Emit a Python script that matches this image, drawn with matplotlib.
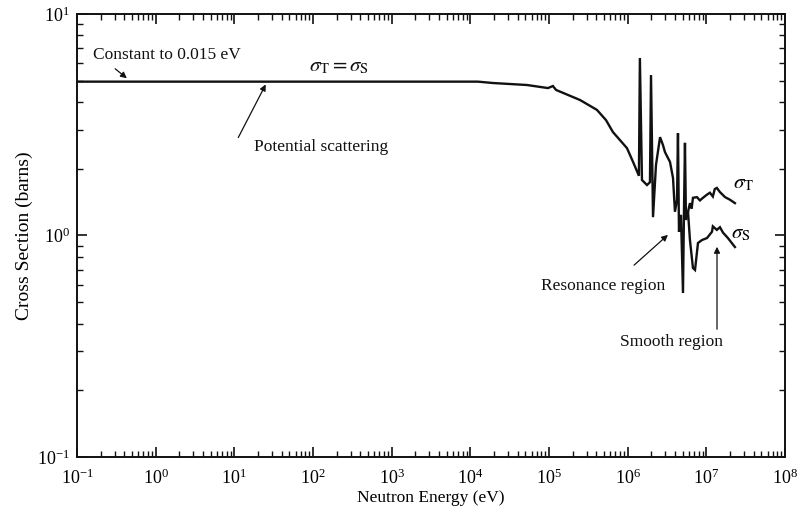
import matplotlib
matplotlib.use("Agg")
import matplotlib.pyplot as plt
from matplotlib.ticker import LogLocator, LogFormatterSciNotation, NullFormatter, FixedLocator

plt.rcParams['font.family'] = ['Liberation Serif', 'DejaVu Serif']
plt.rcParams['mathtext.fontset'] = 'stix'

# ---- data ----
energy_T = [0.1, 1.25e4, 1.94e4, 5.25e4, 9.7e4, 1.12e5, 1.23e5, 2.48e5, 4.07e5,
            5.30e5, 6.50e5, 9.8e5, 1.17e6, 1.39e6, 1.43e6, 1.52e6, 1.76e6, 1.92e6,
            1.98e6, 2.10e6, 2.29e6, 2.58e6, 2.81e6, 2.98e6, 3.25e6, 3.45e6, 3.77e6,
            3.99e6, 4.24e6, 4.36e6, 4.49e6, 4.76e6, 5.05e6, 5.20e6, 5.35e6, 5.51e6,
            5.85e6, 6.19e6, 6.50e6, 6.76e6, 7.60e6, 8.30e6, 9.06e6, 1.02e7, 1.11e7,
            1.21e7, 1.28e7, 1.36e7, 1.49e7, 1.73e7, 2.00e7, 2.31e7]
sigma_T = [4.95, 4.95, 4.88, 4.78, 4.63, 4.73, 4.54, 4.09, 3.69,
           3.32, 2.93, 2.48, 2.15, 1.86, 6.33, 1.78, 1.69, 1.74,
           5.30, 1.21, 2.08, 2.78, 2.56, 2.38, 2.24, 2.15, 1.82,
           1.28, 1.45, 2.90, 1.04, 1.24, 0.55, 1.30, 2.62, 1.175,
           1.28, 1.40, 1.32, 1.48, 1.49, 1.44, 1.48, 1.53, 1.56,
           1.50, 1.62, 1.64, 1.57, 1.49, 1.45, 1.40]

energy_S = [5.85e6, 6.19e6, 6.76e6, 7.18e6, 7.83e6, 8.81e6, 1.02e7, 1.18e7,
            1.21e7, 1.36e7, 1.49e7, 1.63e7, 1.88e7, 2.31e7]
sigma_S = [1.28, 0.954, 0.713, 0.699, 0.925, 0.954, 0.974, 1.04,
           1.10, 1.06, 1.09, 1.03, 0.974, 0.887]

x_ticks = [1e-1, 1e0, 1e1, 1e2, 1e3, 1e4, 1e5, 1e6, 1e7, 1e8]
y_ticks = [1e-1, 1e0, 1e1]

W, H = 801, 517
fig = plt.figure(figsize=(W / 100, H / 100), dpi=100)
ax = fig.add_axes([77 / W, 1 - 457 / H, (785 - 77) / W, (457 - 14) / H])

ax.plot(energy_T, sigma_T, color='#111111', lw=1.7, solid_joinstyle='miter')
ax.plot(energy_S, sigma_S, color='#111111', lw=1.7, solid_joinstyle='miter')

ax.set_xscale('log')
ax.set_yscale('log')
ax.set_xlim(x_ticks[0], x_ticks[-1])
ax.set_ylim(y_ticks[0], y_ticks[-1])

ax.xaxis.set_major_locator(FixedLocator(x_ticks))
ax.yaxis.set_major_locator(FixedLocator(y_ticks))
ax.xaxis.set_minor_locator(LogLocator(base=10, subs=range(2, 10), numticks=100))
ax.yaxis.set_minor_locator(LogLocator(base=10, subs=range(2, 10), numticks=100))
ax.xaxis.set_major_formatter(LogFormatterSciNotation())
ax.yaxis.set_major_formatter(LogFormatterSciNotation())
ax.xaxis.set_minor_formatter(NullFormatter())
ax.yaxis.set_minor_formatter(NullFormatter())

ax.tick_params(which='both', direction='in', top=True, right=True, color='#111111')
ax.tick_params(which='major', length=7, width=1.2, labelsize=13)
ax.tick_params(which='minor', length=4, width=1.0)
ax.tick_params(axis='x', which='major', pad=8)
ax.tick_params(axis='y', which='major', pad=5)
for s in ax.spines.values():
    s.set_linewidth(1.4)
    s.set_color('#111111')

ax.set_xlabel('Neutron Energy (eV)', fontsize=12.5, labelpad=2)
ax.set_ylabel('Cross Section (barns)', fontsize=14, labelpad=3)


def px(x, y):
    return (x / W, 1 - y / H)


txt = dict(fontsize=12.5, ha='center', va='center', color='#111111')
arr = dict(arrowstyle='-|>', color='#111111', lw=0.9, mutation_scale=9)

fig.text(*px(167, 55), 'Constant to 0.015 eV', **txt)
ax.annotate('', xy=px(129, 80), xytext=px(113, 67), xycoords='figure fraction',
            textcoords='figure fraction', arrowprops=arr)
fig.text(*px(339, 67), r'$\sigma_{\rm T}=\sigma_{\rm S}$', fontsize=15,
         ha='center', va='center', color='#111111')
fig.text(*px(321, 147), 'Potential scattering', **txt)
ax.annotate('', xy=px(267, 82), xytext=px(237, 140), xycoords='figure fraction',
            textcoords='figure fraction', arrowprops=arr)
fig.text(*px(603, 286), 'Resonance region', **txt)
ax.annotate('', xy=px(670, 233), xytext=px(632, 267), xycoords='figure fraction',
            textcoords='figure fraction', arrowprops=arr)
fig.text(*px(672, 342), 'Smooth region', **txt)
ax.annotate('', xy=px(717, 244), xytext=px(717, 332), xycoords='figure fraction',
            textcoords='figure fraction', arrowprops=arr)
fig.text(*px(744, 184), r'$\sigma_{\rm T}$', fontsize=15, ha='center', va='center')
fig.text(*px(741, 234), r'$\sigma_{\rm S}$', fontsize=15, ha='center', va='center')

fig.savefig('out.png', dpi=100, facecolor='white')
